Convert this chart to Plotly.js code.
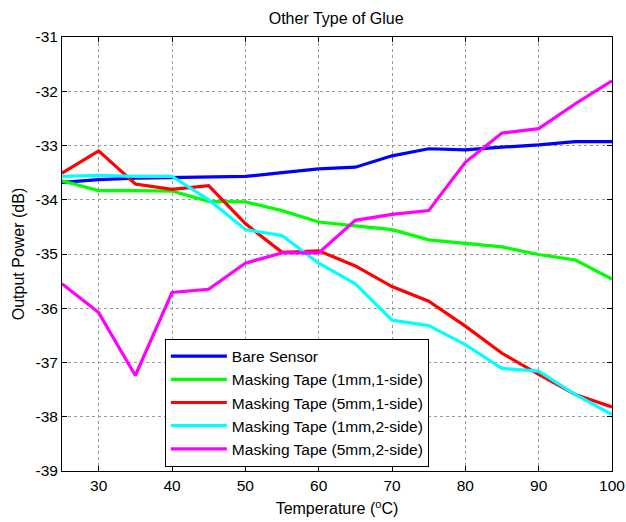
<!DOCTYPE html>
<html>
<head>
<meta charset="utf-8">
<script src="https://cdn.plot.ly/plotly-3.0.1.min.js"></script>
<style>html,body{margin:0;padding:0;background:#fff;}#chart{width:626px;height:522px;}</style>
</head>
<body>
<div id="chart"></div>
<script>
const temperature = [25, 30, 35, 40, 45, 50, 55, 60, 65, 70, 75, 80, 85, 90, 95, 100];
const bareSensor = [-33.68, -33.63, -33.60, -33.59, -33.58, -33.57, -33.50, -33.43, -33.40, -33.19, -33.06, -33.08, -33.03, -32.99, -32.93, -32.93];
const tape1mm1side = [-33.65, -33.83, -33.83, -33.84, -34.03, -34.04, -34.20, -34.41, -34.48, -34.55, -34.74, -34.80, -34.87, -35.01, -35.11, -35.46];
const tape5mm1side = [-33.51, -33.10, -33.71, -33.81, -33.74, -34.44, -34.97, -34.94, -35.22, -35.60, -35.87, -36.33, -36.83, -37.22, -37.59, -37.82];
const tape1mm2side = [-33.57, -33.55, -33.57, -33.57, -34.00, -34.55, -34.66, -35.17, -35.55, -36.22, -36.32, -36.67, -37.11, -37.16, -37.59, -37.96];
const tape5mm2side = [-35.55, -36.08, -37.24, -35.71, -35.65, -35.17, -34.98, -34.98, -34.38, -34.27, -34.20, -33.31, -32.77, -32.69, -32.23, -31.81];
const seriesNames = ["Bare Sensor", "Masking Tape (1mm,1-side)", "Masking Tape (5mm,1-side)", "Masking Tape (1mm,2-side)", "Masking Tape (5mm,2-side)"];
const seriesColors = ["#0000FF", "#00FF00", "#FF0000", "#00FFFF", "#FF00FF"];
const xTicks = [30, 40, 50, 60, 70, 80, 90, 100];
const yTicks = [-39, -38, -37, -36, -35, -34, -33, -32, -31];

const allSeries = [bareSensor, tape1mm1side, tape5mm1side, tape1mm2side, tape5mm2side];
const traces = allSeries.map((ys, i) => ({
  x: temperature, y: ys, type: 'scatter', mode: 'lines', name: seriesNames[i],
  line: {color: seriesColors[i], width: 3.2}
}));

const fam = 'Arial, "Liberation Sans", sans-serif';
const tickFont = {family: fam, size: 15.5, color: '#000'};
const labelFont = {family: fam, size: 16, color: '#000'};
const axisCommon = {
  showline: true, linecolor: '#000', linewidth: 1, mirror: 'allticks',
  ticks: 'inside', ticklen: 5, tickcolor: '#000',
  showgrid: true, gridcolor: '#999', griddash: 'dot', gridwidth: 1,
  zeroline: false, tickfont: tickFont
};

const layout = {
  width: 626, height: 522,
  margin: {l: 62, r: 14, t: 37, b: 51},
  paper_bgcolor: '#fff', plot_bgcolor: '#fff',
  font: labelFont,
  title: {text: 'Other Type of Glue', font: {family: fam, size: 16, color: '#000'}, x: 0.537, xanchor: 'center', y: 0.964, yanchor: 'middle'},
  xaxis: Object.assign({}, axisCommon, {
    range: [25, 100], tickvals: xTicks, ticktext: xTicks.map(String),
    title: {text: 'Temperature (<sup>o</sup>C)', font: labelFont, standoff: 10}
  }),
  yaxis: Object.assign({}, axisCommon, {
    range: [-39, -31], tickvals: yTicks, ticktext: yTicks.map(String),
    title: {text: 'Output Power (dB)', font: labelFont, standoff: 6}
  }),
  showlegend: true,
  legend: {
    x: 0.187, y: 0.305, xanchor: 'left', yanchor: 'top',
    bgcolor: '#fff', bordercolor: '#000', borderwidth: 1,
    font: {family: fam, size: 15.5, color: '#000'},
    tracegroupgap: 0, itemwidth: 56
  }
};

Plotly.newPlot('chart', traces, layout, {displayModeBar: false, staticPlot: true});
</script>
</body>
</html>
